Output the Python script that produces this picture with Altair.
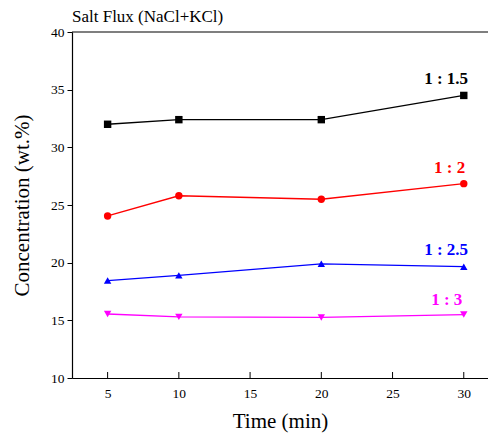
import altair as alt
import pandas as pd

time = [5, 10, 20, 30]
series_names = ["1 : 1.5", "1 : 2", "1 : 2.5", "1 : 3"]
s15 = [32.0, 32.4, 32.4, 34.5]
s2 = [24.05, 25.8, 25.5, 26.85]
s25 = [18.45, 18.9, 19.9, 19.65]
s3 = [15.55, 15.3, 15.25, 15.5]
colors = ["#000000", "#ff0000", "#0000ff", "#ff00ff"]
shapes = ["square", "circle", "triangle-up", "triangle-down"]
label_x = [30.3, 30.1, 30.3, 29.9]
label_y = [35.95, 28.2, 21.1, 16.75]
x_ticks = [5, 10, 15, 20, 25, 30]
y_ticks = [10, 15, 20, 25, 30, 35, 40]

rows = []
for name, vals in zip(series_names, [s15, s2, s25, s3]):
    for t, v in zip(time, vals):
        rows.append({"series": name, "time": t, "conc": v})
df = pd.DataFrame(rows)
labels = pd.DataFrame({"series": series_names, "x": label_x, "y": label_y})

W, H = 416, 346
FONT = "Liberation Serif"
xscale = alt.Scale(domain=[2.5, 31.7], nice=False, zero=False)
yscale = alt.Scale(domain=[10, 40], nice=False, zero=False)
cscale = alt.Scale(domain=series_names, range=colors)
sscale = alt.Scale(domain=series_names, range=shapes)

xaxis = alt.Axis(title="Time (min)", values=x_ticks, ticks=False, grid=False,
                 labelFont=FONT, labelFontSize=13.5, labelColor="#000", labelPadding=8,
                 titleFont=FONT, titleFontSize=21, titleFontWeight="normal", titleColor="#000",
                 titlePadding=11, domainColor="#000", domainWidth=1.2)
yaxis = alt.Axis(title="Concentration (wt.%)", values=y_ticks, grid=False,
                 tickSize=5, tickColor="#000", tickWidth=1,
                 labelFont=FONT, labelFontSize=13.5, labelColor="#000", labelPadding=3,
                 titleFont=FONT, titleFontSize=21, titleFontWeight="normal", titleColor="#000",
                 titlePadding=18, domainColor="#000", domainWidth=1.2)

base = alt.Chart(df)
lines = base.mark_line(strokeWidth=1.3).encode(
    x=alt.X("time:Q", scale=xscale, axis=xaxis),
    y=alt.Y("conc:Q", scale=yscale, axis=yaxis),
    color=alt.Color("series:N", scale=cscale, legend=None),
    detail="series:N",
)
points = base.mark_point(filled=True, size=55, opacity=1).encode(
    x=alt.X("time:Q", scale=xscale),
    y=alt.Y("conc:Q", scale=yscale),
    color=alt.Color("series:N", scale=cscale, legend=None),
    shape=alt.Shape("series:N", scale=sscale, legend=None),
)
texts = alt.Chart(labels).mark_text(font=FONT, fontSize=17, fontWeight="bold",
                                    align="right", baseline="middle").encode(
    x=alt.X("x:Q", scale=xscale),
    y=alt.Y("y:Q", scale=yscale),
    text="series:N",
    color=alt.Color("series:N", scale=cscale, legend=None),
)
# inward x ticks
tick_layer = alt.Chart(pd.DataFrame({"t": x_ticks})).mark_rule(color="#000", strokeWidth=1).encode(
    x=alt.X("t:Q", scale=xscale),
    y=alt.value(H - 6),
    y2=alt.value(H),
)
# top frame line
top_layer = alt.Chart(pd.DataFrame({"t": [0]})).mark_rule(color="#000", strokeWidth=1.2).encode(
    x=alt.value(0), x2=alt.value(W), y=alt.value(0),
)

chart = alt.layer(lines, points, texts, tick_layer, top_layer).properties(
    width=W, height=H,
    autosize=alt.AutoSizeParams(type="none"),
    padding={"left": 64, "top": 24, "right": 0, "bottom": 58},
    title=alt.TitleParams("Salt Flux (NaCl+KCl)", anchor="start", frame="group",
                          dx=0, offset=-1, font=FONT, fontSize=17,
                          fontWeight="normal", color="#000"),
).configure_view(stroke=None)

chart.save("out.html", embed_options={"renderer": "svg", "actions": False})
